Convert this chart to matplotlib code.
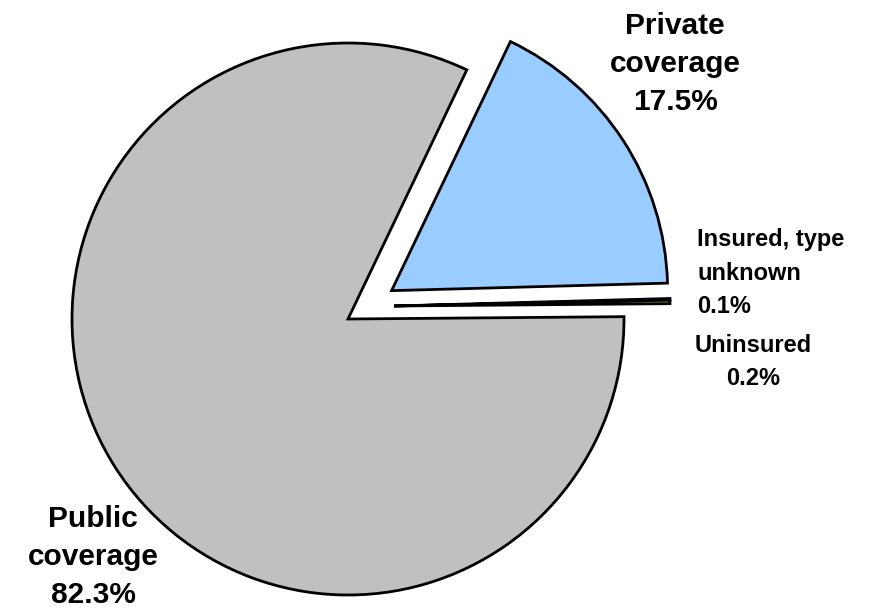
import matplotlib
matplotlib.use("Agg")
import matplotlib.pyplot as plt

# data
categories = ["Private coverage", "Insured, type unknown", "Uninsured", "Public coverage"]
shares = [17.5, 0.1, 0.2, 82.3]
colors = ["#99CCFF", "#99CC00", "#99CC00", "#C0C0C0"]
explode = [52, 0, 0, 0]  # pie explode is in data units here (pixels)

plt.rcParams['font.family'] = ['Liberation Sans', 'DejaVu Sans']

fig = plt.figure(figsize=(8.71, 6.10), dpi=100)
ax = fig.add_axes([0, 0, 1, 1])
ax.axis('off')

H = 610
cx, cy = 348, H - 319
wedges, _ = ax.pie(shares, colors=colors, explode=explode, startangle=64.5,
                   counterclock=False, center=(cx, cy), radius=276, normalize=True,
                   wedgeprops=dict(edgecolor='black', linewidth=2))
# excel pulls the tiny slices out a bit upward, not along their mid angle
for w in wedges[1:3]:
    w.set_center((cx + 46, cy + 13))
ax.set_xlim(0, 871)
ax.set_ylim(0, 610)
ax.set_aspect('equal')

# labels
ax.text(675, H - 64, "Private\ncoverage\n17.5%", ha='center', va='center',
        fontsize=21.5, fontweight='bold', linespacing=1.45)
ax.text(93, H - 557, "Public\ncoverage\n82.3%", ha='center', va='center',
        fontsize=21.5, fontweight='bold', linespacing=1.45)
ax.text(697, H - 273, "Insured, type\nunknown\n0.1%", ha='left', va='center',
        fontsize=17, fontweight='bold', linespacing=1.6)
ax.text(753, H - 362, "Uninsured\n0.2%", ha='center', va='center',
        fontsize=17, fontweight='bold', linespacing=1.6)

fig.savefig("out.png", dpi=100)
